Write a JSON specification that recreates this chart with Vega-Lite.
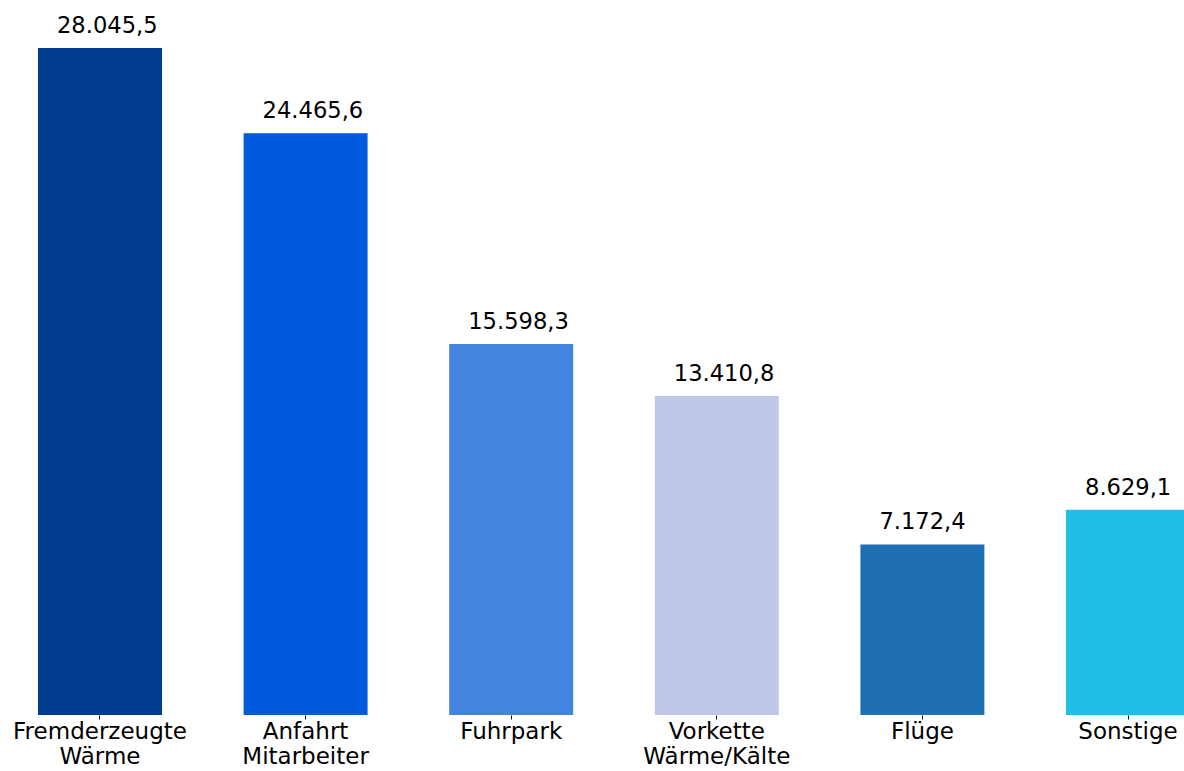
{
  "$schema": "https://vega.github.io/schema/vega-lite/v6.json",
  "autosize": "none",
  "width": 1146,
  "height": 667,
  "padding": {"left": 38, "top": 48, "right": 0, "bottom": 56},
  "background": "white",
  "config": {
    "view": {"stroke": null},
    "locale": {"number": {"decimal": ",", "thousands": ".", "grouping": [3], "currency": ["", " €"]}},
    "font": "DejaVu Sans"
  },
  "data": {
    "values": [
      {"kategorie": "Fremderzeugte\nWärme", "wert": 28045.5, "farbe": "#003D8F"},
      {"kategorie": "Anfahrt\nMitarbeiter", "wert": 24465.6, "farbe": "#005BDC"},
      {"kategorie": "Fuhrpark", "wert": 15598.3, "farbe": "#4384DE"},
      {"kategorie": "Vorkette\nWärme/Kälte", "wert": 13410.8, "farbe": "#BFC8E6"},
      {"kategorie": "Flüge", "wert": 7172.4, "farbe": "#1F6FB5"},
      {"kategorie": "Sonstige", "wert": 8629.1, "farbe": "#20BEE6"}
    ]
  },
  "encoding": {
    "x": {
      "field": "kategorie",
      "type": "nominal",
      "sort": null,
      "scale": {"range": [0, 1152], "paddingInner": 0.397, "paddingOuter": 0},
      "axis": {
        "title": null,
        "domain": false,
        "ticks": true,
        "tickSize": 4,
        "tickColor": "black",
        "tickWidth": 1,
        "labelAngle": 0,
        "labelFont": "DejaVu Sans",
        "labelFontSize": 23,
        "labelColor": "black",
        "labelPadding": 1,
        "labelLineHeight": 25,
        "labelExpr": "split(datum.value, '\\n')"
      }
    },
    "y": {
      "field": "wert",
      "type": "quantitative",
      "scale": {"domain": [0, 28045.5], "nice": false, "zero": true},
      "axis": null
    }
  },
  "layer": [
    {
      "mark": {"type": "bar"},
      "encoding": {
        "color": {"field": "farbe", "type": "nominal", "scale": null, "legend": null}
      }
    },
    {
      "mark": {"type": "text", "align": "left", "baseline": "alphabetic", "dx": -43, "dy": -15, "fontSize": 22.6, "font": "DejaVu Sans", "color": "black"},
      "encoding": {
        "text": {"field": "wert", "type": "quantitative", "format": ",.1f"}
      }
    }
  ]
}
